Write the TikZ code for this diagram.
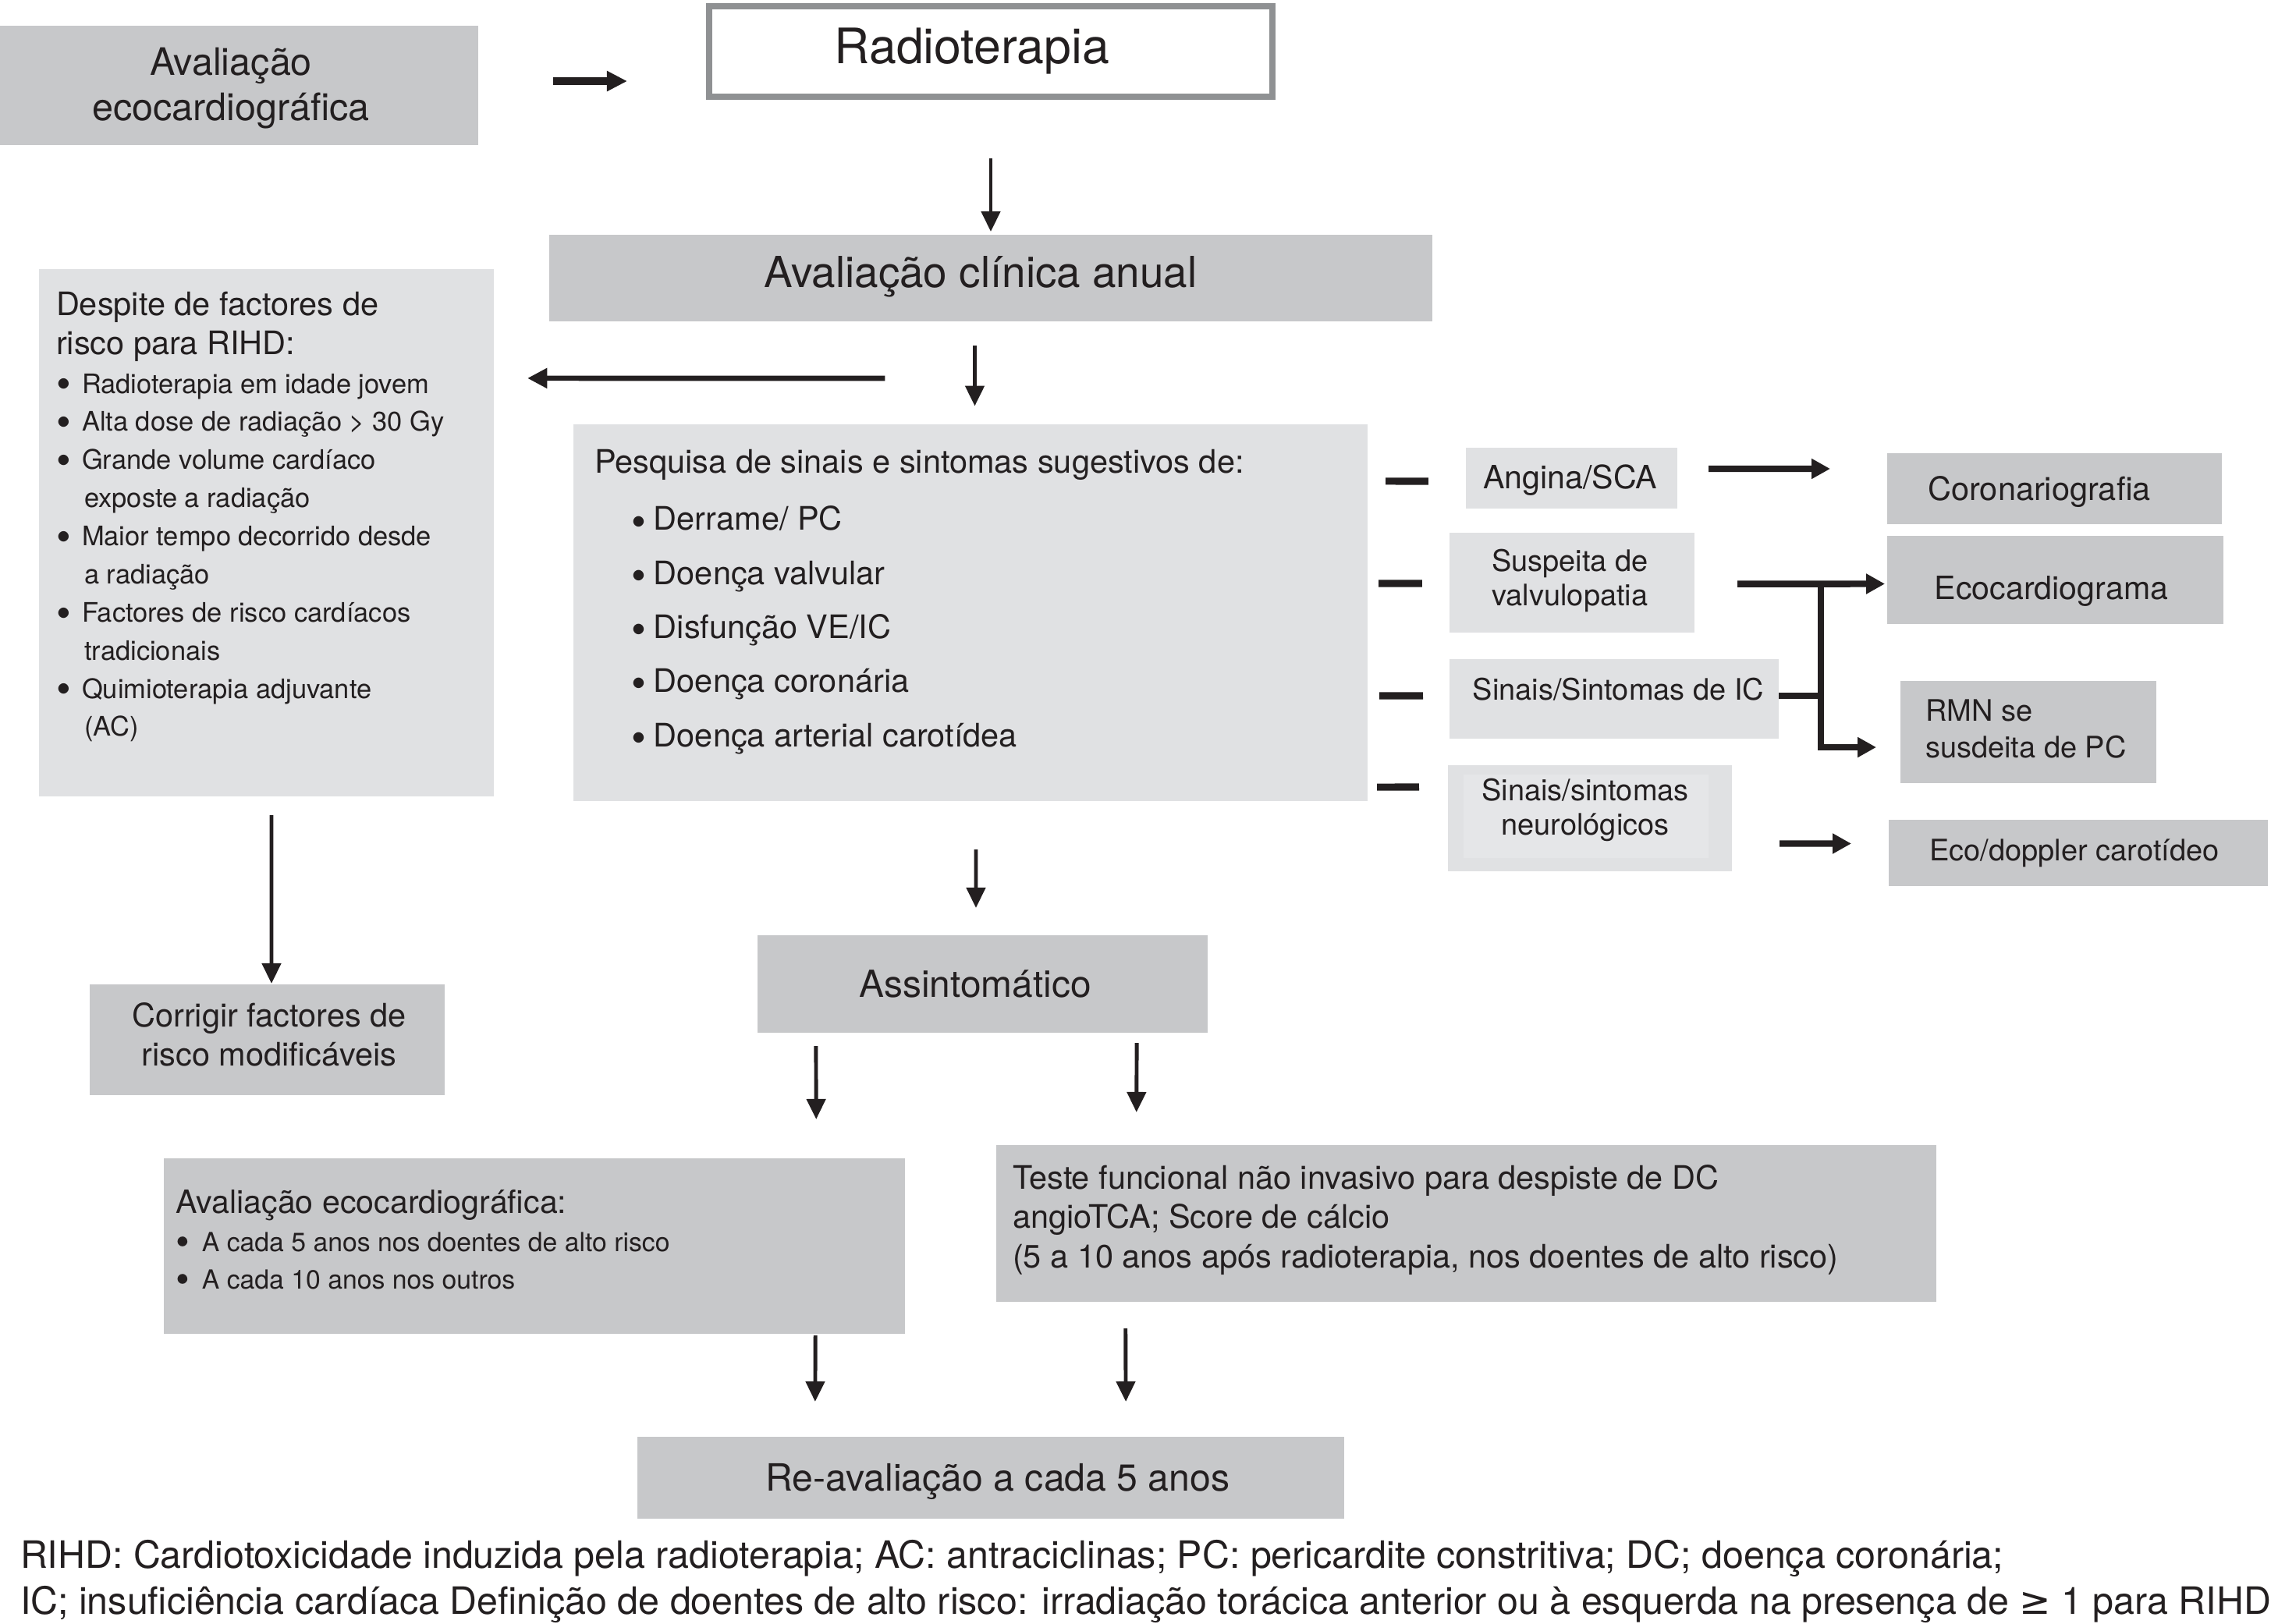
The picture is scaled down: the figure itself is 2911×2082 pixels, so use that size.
\documentclass[tikz,border=0pt]{standalone}
\usepackage{fontspec}
\setmainfont{TeX Gyre Heros}
\newfontfamily\symfont{DejaVu Sans}
\usetikzlibrary{arrows.meta,fit}
\definecolor{boxdark}{HTML}{C7C8CA}
\definecolor{boxlight}{HTML}{E0E1E3}
\definecolor{boxinner}{HTML}{E5E6E8}
\definecolor{ink}{HTML}{231F20}
\definecolor{rim}{HTML}{8F9193}
\newcommand\firstln{\rule{0pt}{0.75em}}
\newcommand\bulA{\makebox[9.4pt][l]{\smash{\raisebox{-0.2em}{\scalebox{1.55}{\textbullet}}}}}
\newcommand\bulC{\makebox[9.5pt][l]{\smash{\raisebox{-0.16em}{\scalebox{1.5}{\textbullet}}}}}
\newcommand\bulB{\hspace*{13.4pt}\makebox[8.2pt][l]{\smash{\raisebox{-0.17em}{\scalebox{1.3}{\textbullet}}}}}
\newcommand\contA{\hspace*{10.3pt}}
\begin{document}
\begin{tikzpicture}[x=0.01cm, y=-0.01cm,
  dk/.style={fill=boxdark, draw=none, inner sep=0pt, outer sep=0pt},
  lt/.style={fill=boxlight, draw=none, inner sep=0pt, outer sep=0pt},
  rimbox/.style={fill=white, draw=rim, line width=2.3pt, inner sep=0pt, outer sep=0pt},
  txt/.style={inner sep=0pt, outer sep=0pt, text=ink, align=center},
  ltxt/.style={inner sep=0pt, outer sep=0pt, text=ink, align=left},
  arr/.style={draw=ink, line width=1.4pt, -{Triangle[length=7.4pt,width=6.8pt]}},
  harr/.style={draw=ink, line width=2.4pt, -{Triangle[length=6.8pt,width=7pt]}},
  warr/.style={draw=ink, line width=1.9pt, -{Triangle[length=7.2pt,width=7pt]}},
  bigarr/.style={draw=ink, line width=2.8pt, -{Triangle[length=7.4pt,width=7pt]}},
  dashbar/.style={draw=ink, line width=2.6pt},
  joint/.style={draw=ink, line width=2.1pt},
]
\path[fill=white, use as bounding box] (0,0) rectangle (2911,2082);

% ---------- boxes ----------
\node[dk, fit={(0,33) (613,186)}] (avaltop) {};
\node[rimbox, fit={(909,8) (1631,124)}] (radio) {};
\node[dk, fit={(704,301) (1836,412)}] (clinic) {};
\node[lt, fit={(50,345) (633,1021)}] (despite) {};
\node[lt, fit={(735,544) (1753,1027)}] (pesq) {};
\node[lt, fit={(1879,574) (2150,652)}] (angina) {};
\node[dk, fit={(2419,581) (2848,672)}] (coro) {};
\node[lt, fit={(1858,683) (2172,811)}] (susp) {};
\node[dk, fit={(2419,687) (2850,800)}] (ecoc) {};
\node[lt, fit={(1858,845) (2280,947)}] (sinic) {};
\node[dk, fit={(2436,873) (2764,1004)}] (rmn) {};
\node[lt, fit={(1856,981) (2220,1117)}] (neuro) {};
\fill[boxinner] (1876,993) rectangle (2190,1100);
\node[dk, fit={(2421,1051) (2907,1136)}] (carot) {};
\node[dk, fit={(115,1262) (570,1404)}] (corr) {};
\node[dk, fit={(971,1199) (1548,1324)}] (assint) {};
\node[dk, fit={(210,1485) (1160,1710)}] (avalbot) {};
\node[dk, fit={(1277,1468) (2482,1669)}] (teste) {};
\node[dk, fit={(817,1842) (1723,1947)}] (reaval) {};

% ---------- texts ----------
\node[txt, anchor=north, font=\fontsize{13.8}{16.4}\selectfont] (avaltopT) at (296,60.3) {\firstln Avaliação\\ecocardiográfica};
\node[txt, anchor=base, font=\fontsize{17.8}{21}\selectfont] (radioT) at (1246,82) {Radioterapia};
\node[txt, anchor=base, font=\fontsize{15.6}{19}\selectfont] (clinicT) at (1257,369) {Avaliação clínica anual};

\node[ltxt, anchor=north west, font=\fontsize{9.8}{13.9}\selectfont] (despiteT) at (72,373) {%
{\fontsize{11.8}{14.2}\selectfont\firstln Despite de factores de}\\[0.3pt]
{\fontsize{11.8}{14.2}\selectfont risco para RIHD:}\\[0.3pt]
\bulA Radioterapia em idade jovem\\
\bulA Alta dose de radiação > 30 Gy\\
\bulA Grande volume cardíaco\\
\contA exposte a radiação\\
\bulA Maior tempo decorrido desde\\
\contA a radiação\\
\bulA Factores de risco cardíacos\\
\contA tradicionais\\
\bulA Quimioterapia adjuvante\\
\contA (AC)};

\node[ltxt, anchor=north west, font=\fontsize{11.8}{19.7}\selectfont] (pesqT) at (762,575) {%
\firstln Pesquisa de sinais e sintomas sugestivos de:\\[1.3pt]
\bulB Derrame/ PC\\
\bulB Doença valvular\\
\bulB Disfunção VE/IC\\
\bulB Doença coronária\\
\bulB Doença arterial carotídea};

\node[txt, anchor=base, font=\fontsize{11.7}{14}\selectfont] (anginaT) at (2012.6,626) {Angina/SCA};
\node[txt, anchor=base, font=\fontsize{11.8}{14}\selectfont] (coroT) at (2614,641) {Coronariografia};
\node[txt, anchor=north, font=\fontsize{10.8}{12.5}\selectfont] (suspT) at (2012.5,704.5) {\firstln Suspeita de\\valvulopatia};
\node[txt, anchor=base, font=\fontsize{11.7}{14}\selectfont] (ecocT) at (2629.5,768) {Ecocardiograma};
\node[txt, anchor=base, font=\fontsize{10.8}{13}\selectfont] (sinicT) at (2074.5,897) {Sinais/Sintomas de IC};
\node[ltxt, anchor=north west, font=\fontsize{10.8}{13.1}\selectfont] (rmnT) at (2468,896.5) {\firstln RMN se\\susdeita de PC};
\node[txt, anchor=north, font=\fontsize{10.8}{12.5}\selectfont] (neuroT) at (2032,998.5) {\firstln Sinais/sintomas\\neurológicos};
\node[txt, anchor=base, font=\fontsize{10.8}{13}\selectfont] (carotT) at (2659,1103) {Eco/doppler carotídeo};

\node[txt, anchor=north, font=\fontsize{11.8}{14.1}\selectfont] (corrT) at (345,1285.5) {\firstln Corrigir factores de\\risco modificáveis};
\node[txt, anchor=base, font=\fontsize{13.6}{16}\selectfont] (assintT) at (1250,1278) {Assintomático};

\node[ltxt, anchor=north west, font=\fontsize{9.6}{13.7}\selectfont] (avalbotT) at (225.5,1525) {%
{\fontsize{11.7}{14}\selectfont\firstln Avaliação ecocardiográfica:}\\
\bulC A cada 5 anos nos doentes de alto risco\\
\bulC A cada 10 anos nos outros};

\node[ltxt, anchor=north west, font=\fontsize{11.8}{14.4}\selectfont] (testeT) at (1298,1493) {%
\firstln Teste funcional não invasivo para despiste de DC\\
angioTCA; Score de cálcio\\
(5 a 10 anos após radioterapia, nos doentes de alto risco)};

\node[txt, anchor=base, font=\fontsize{13.7}{16}\selectfont] (reavalT) at (1279,1911) {Re-avaliação a cada 5 anos};

\node[ltxt, anchor=base west, font=\fontsize{13.75}{16}\selectfont] (foot1) at (26,2010) {RIHD: Cardiotoxicidade induzida pela radioterapia; AC: antraciclinas; PC: pericardite constritiva; DC; doença coronária;};
\node[ltxt, anchor=base west, font=\fontsize{13.75}{16}\selectfont] (foot2) at (26,2069) {IC; insuficiência cardíaca Definição de doentes de alto risco: irradiação torácica anterior ou à esquerda na presença de {\symfont ≥} 1 para RIHD};

% ---------- connectors ----------
\draw[bigarr] ([xshift=0.96cm, yshift=0.055cm]avaltop.east) -- ([xshift=-1.05cm, yshift=-0.38cm]radio.west);
\draw[arr] ([yshift=-0.79cm]radio.south) -- ([yshift=0.04cm]clinic.north);
\draw[arr] ([xshift=-0.205cm, yshift=-0.31cm]clinic.south) -- ([xshift=0.055cm, yshift=0.234cm]pesq.north);
\draw[warr] ([xshift=4.30cm, yshift=-0.73cm]clinic.south west) -- ([xshift=0.43cm, yshift=1.98cm]despite.east);
\draw[arr] ([xshift=0.07cm, yshift=-0.62cm]pesq.south) -- ([xshift=-0.085cm, yshift=0.35cm]assint.north);
\draw[arr] ([xshift=0.065cm, yshift=-0.24cm]despite.south) -- ([xshift=0.055cm, yshift=0.01cm]corr.north);
\draw[arr] ([xshift=-2.135cm, yshift=-0.17cm]assint.south) -- ([xshift=3.61cm, yshift=0.50cm]avalbot.north);
\draw[arr] ([xshift=1.975cm, yshift=-0.13cm]assint.south) -- ([xshift=-4.225cm, yshift=0.42cm]teste.north);
\draw[arr] ([xshift=3.60cm, yshift=-0.02cm]avalbot.south) -- ([xshift=-2.25cm, yshift=0.45cm]reaval.north);
\draw[arr] ([xshift=-4.365cm, yshift=-0.34cm]teste.south) -- ([xshift=1.73cm, yshift=0.45cm]reaval.north);

% symptom ticks
\draw[dashbar] ([xshift=0.23cm, yshift=1.685cm]pesq.east) -- ([xshift=-0.48cm, yshift=-0.04cm]angina.west);
\draw[dashbar] ([xshift=0.14cm, yshift=0.375cm]pesq.east) -- ([xshift=-0.35cm, yshift=-0.01cm]susp.west);
\draw[dashbar] ([xshift=0.15cm, yshift=-1.065cm]pesq.east) -- ([xshift=-0.34cm, yshift=0.04cm]sinic.west);
\draw[dashbar] ([xshift=0.12cm, yshift=-2.235cm]pesq.east) -- ([xshift=-0.37cm, yshift=0.40cm]neuro.west);

% right-hand arrows
\draw[harr] ([xshift=0.40cm, yshift=0.12cm]angina.east) -- ([xshift=-0.73cm, yshift=0.255cm]coro.west);
\draw[harr] ([xshift=0.55cm, yshift=-0.016cm]susp.east) -- ([xshift=-0.03cm, yshift=-0.05cm]ecoc.west);
\coordinate (jmid) at ([xshift=0.54cm, yshift=0.04cm]sinic.east);
\coordinate (jtop) at ([xshift=1.62cm, yshift=-0.01cm]susp.east);
\draw[joint] ([yshift=0.04cm]sinic.east) -- (jmid);
\draw[joint, -{Triangle[length=6.8pt,width=7pt]}] (jtop) |- ([xshift=-0.31cm, yshift=-0.195cm]rmn.west);
\draw[harr] ([xshift=0.61cm, yshift=-0.325cm]neuro.east) -- ([xshift=-0.48cm, yshift=0.12cm]carot.west);
\end{tikzpicture}
\end{document}
